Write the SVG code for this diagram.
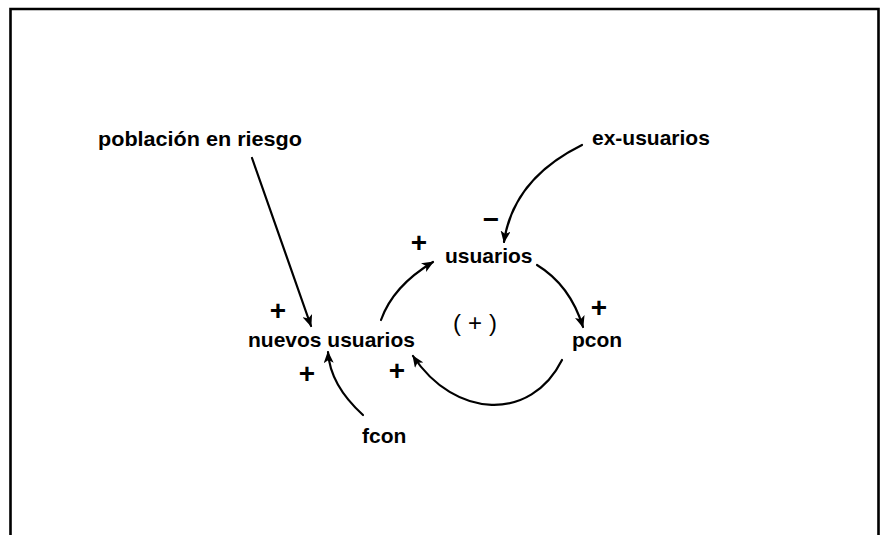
<svg xmlns="http://www.w3.org/2000/svg" width="886" height="535" viewBox="0 0 886 535">
<defs>
<style>
.lbl{font-family:"Liberation Sans",Arial,sans-serif;font-weight:bold;font-size:21px;fill:#000}
.sgn{font-family:"Liberation Sans",Arial,sans-serif;font-weight:bold;font-size:28px;fill:#000;text-anchor:middle}
.edge{fill:none;stroke:#000;stroke-width:2.2;stroke-linecap:round}
</style>
<marker id="ah" viewBox="0 0 12 10" refX="11" refY="5" markerWidth="12" markerHeight="10" markerUnits="userSpaceOnUse" orient="auto">
<path d="M0,0 L12,5 L0,10 L3,5 Z" fill="#000"/>
</marker>
</defs>
<rect width="886" height="535" fill="#fff"/>
<path d="M10.5,545 V9 H878.5 V545" fill="none" stroke="#000" stroke-width="2.6"/>
<g id="connectors">
<path class="edge" d="M252,158 L311,326" marker-end="url(#ah)"/>
<path class="edge" d="M582,145 Q513,179 504,242" marker-end="url(#ah)"/>
<path class="edge" d="M381,320 Q393,286 433,262" marker-end="url(#ah)"/>
<path class="edge" d="M537,265 Q570,285 583,327" marker-end="url(#ah)"/>
<path class="edge" d="M562,360 C531,422 455,419 413,356" marker-end="url(#ah)"/>
<path class="edge" d="M363,415 Q330,385 328,352" marker-end="url(#ah)"/>
</g>
<g id="poblacion"><text class="lbl" x="98" y="146" textLength="204" lengthAdjust="spacingAndGlyphs">población en riesgo</text></g>
<g id="ex-usuarios"><text class="lbl" x="592" y="145">ex-usuarios</text></g>
<g id="usuarios"><text class="lbl" x="445" y="263">usuarios</text></g>
<g id="nuevos-usuarios"><text class="lbl" x="248" y="347">nuevos usuarios</text></g>
<g id="pcon"><text class="lbl" x="572" y="347">pcon</text></g>
<g id="fcon"><text class="lbl" x="362" y="443">fcon</text></g>
<g id="loop"><text x="453" y="331" font-family="Liberation Sans, Arial, sans-serif" font-size="24" textLength="44" lengthAdjust="spacing">(+)</text></g>
<g id="signs">
<text class="sgn" x="419" y="252">+</text>
<text class="sgn" x="278" y="320">+</text>
<text class="sgn" x="307" y="383">+</text>
<text class="sgn" x="397" y="380">+</text>
<text class="sgn" x="599" y="317">+</text>
<text class="sgn" x="491" y="229" font-size="31">−</text>
</g>
</svg>
